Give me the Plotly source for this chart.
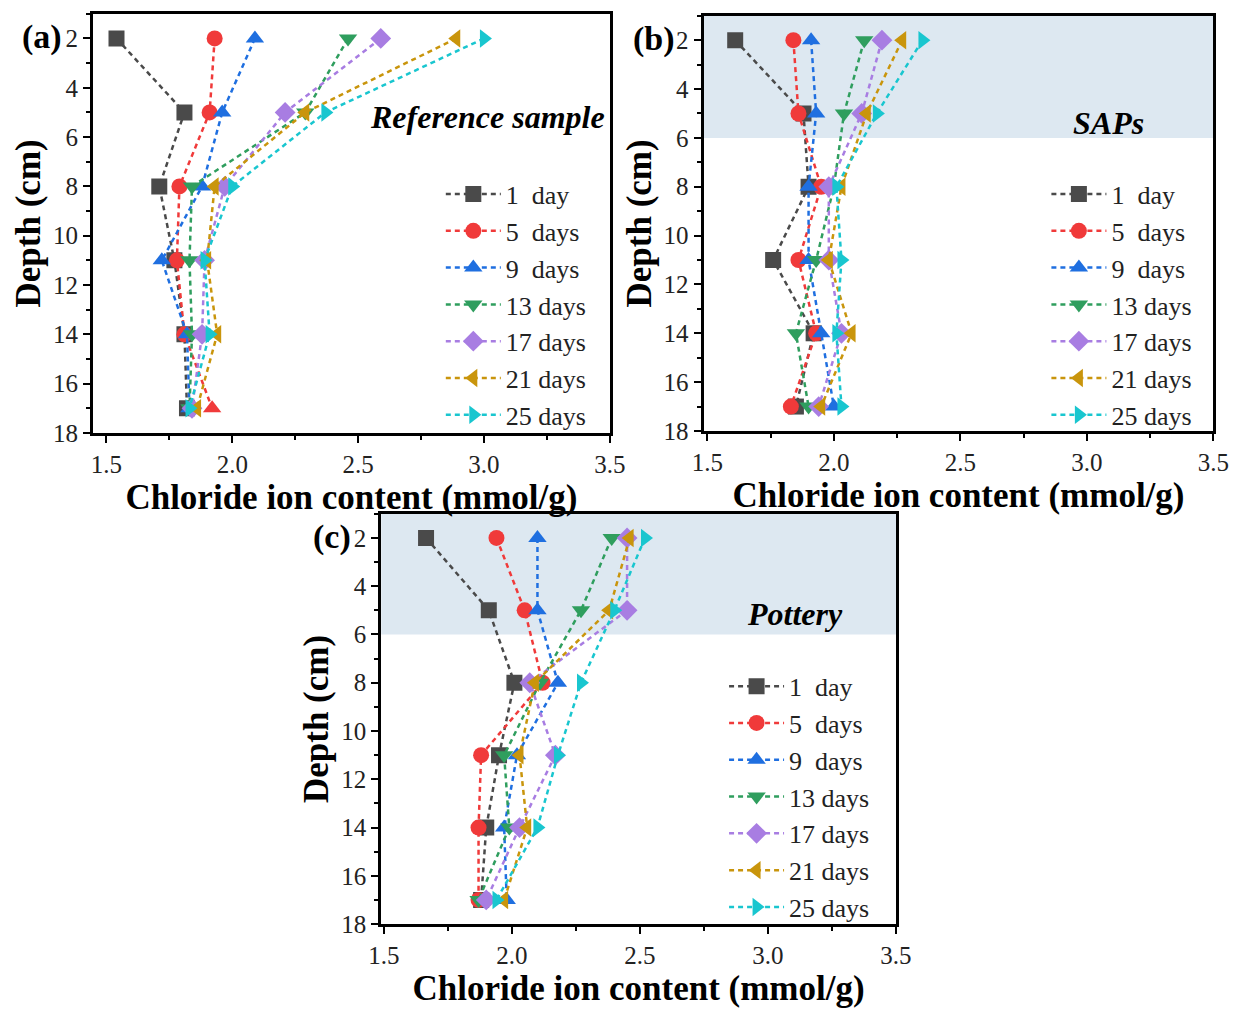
import plotly.graph_objects as go

depth = [2, 5, 8, 11, 14, 17]
series_names = ["1\u00a0\u00a0day", "5\u00a0\u00a0days", "9\u00a0\u00a0days", "13 days", "17 days", "21 days", "25 days"]

# (a) Reference sample
ref_1d = [1.54, 1.81, 1.71, 1.77, 1.81, 1.82]
ref_5d = [1.93, 1.91, 1.79, 1.78, 1.81, 1.92]
ref_9d = [2.09, 1.96, 1.88, 1.72, 1.82, 1.83]
ref_13d = [2.46, 2.29, 1.84, 1.83, 1.84, 1.83]
ref_17d = [2.59, 2.21, 1.97, 1.89, 1.88, 1.84]
ref_21d = [2.89, 2.29, 1.93, 1.90, 1.94, 1.86]
ref_25d = [3.00, 2.37, 2.00, 1.89, 1.91, 1.83]

# (b) SAPs
sap_1d = [1.61, 1.88, 1.90, 1.76, 1.92, 1.85]
sap_5d = [1.84, 1.86, 1.95, 1.86, 1.93, 1.83]
sap_9d = [1.91, 1.93, 1.90, 1.90, 1.95, 2.00]
sap_13d = [2.12, 2.04, 2.00, 1.93, 1.85, 1.90]
sap_17d = [2.19, 2.11, 1.98, 1.98, 2.03, 1.94]
sap_21d = [2.27, 2.13, 2.03, 1.98, 2.07, 1.95]
sap_25d = [2.35, 2.17, 2.01, 2.03, 2.01, 2.03]

# (c) Pottery
pot_1d = [1.665, 1.91, 2.01, 1.95, 1.90, 1.88]
pot_5d = [1.94, 2.05, 2.12, 1.88, 1.87, 1.87]
pot_9d = [2.10, 2.10, 2.18, 2.02, 1.97, 1.98]
pot_13d = [2.39, 2.27, 2.11, 1.97, 1.99, 1.87]
pot_17d = [2.45, 2.45, 2.07, 2.17, 2.03, 1.90]
pot_21d = [2.46, 2.38, 2.09, 2.03, 2.06, 1.97]
pot_25d = [2.52, 2.40, 2.27, 2.18, 2.10, 1.94]

panels = [
    [ref_1d, ref_5d, ref_9d, ref_13d, ref_17d, ref_21d, ref_25d],
    [sap_1d, sap_5d, sap_9d, sap_13d, sap_17d, sap_21d, sap_25d],
    [pot_1d, pot_5d, pot_9d, pot_13d, pot_17d, pot_21d, pot_25d],
]

colors = ["#4a4a4a", "#f03a3a", "#1f6fe0", "#2f9e5e", "#a87de2", "#c9950c", "#19c6cf"]
symbols = ["square", "circle", "triangle-up", "triangle-down", "diamond", "triangle-left", "triangle-right"]

W, H = 1247, 1015
FONT = "Times New Roman, Liberation Serif, serif"

# plot area pixel boxes: left, right, top, bottom
boxes = [(82, 611, 14, 439), (707, 1229, 16, 437), (377, 904, 521, 937)]
xranges = [[1.447, 3.5], [1.485, 3.5], [1.49, 3.5]]

fig = go.Figure()
layout = dict(
    width=W, height=H, margin=dict(l=0, r=0, t=0, b=0),
    paper_bgcolor="white", plot_bgcolor="white",
    font=dict(family=FONT, size=25, color="black"),
    showlegend=True,
)

axis_suffix = ["", "2", "3"]
legend_names = ["legend", "legend2", "legend3"]
legend_pos = [(438, 173), (1058, 173), (728, 672)]

for p in range(3):
    s = axis_suffix[p]
    l, r, t, b = boxes[p]
    for i in range(7):
        sym = symbols[i]
        if p == 0 and i == 1:
            sym = ["circle"] * 5 + ["triangle-up"]
        fig.add_trace(go.Scatter(
            x=panels[p][i], y=depth, mode="lines+markers",
            name=series_names[i],
            line=dict(color=colors[i], width=2.5, dash="5px,4px"),
            marker=dict(symbol=sym, size=16, color=colors[i], line=dict(width=0)),
            xaxis="x" + s, yaxis="y" + s, legend=legend_names[p],
        ))
    layout["xaxis" + s] = dict(
        domain=[l / W, r / W], anchor="y" + s, range=xranges[p],
        dtick=0.5, tick0=0, tickformat=".1f",
        ticks="outside", ticklen=7, tickwidth=2, tickcolor="black",
        minor=dict(dtick=0.25, tick0=0, ticks="outside", ticklen=4, tickwidth=2, tickcolor="black"),
        showline=True, linewidth=3, linecolor="black", mirror=True,
        showgrid=False, zeroline=False,
        tickfont=dict(size=25, family=FONT, color="#222"),
        title=dict(text="<b>Chloride ion content (mmol/g)</b>", font=dict(size=35, family=FONT), standoff=0),
    )
    layout["yaxis" + s] = dict(
        domain=[1 - b / H, 1 - t / H], anchor="x" + s, range=[18, 1],
        dtick=2, tick0=0,
        ticks="outside", ticklen=7, tickwidth=2, tickcolor="black",
        minor=dict(dtick=1, tick0=0, ticks="outside", ticklen=4, tickwidth=2, tickcolor="black"),
        showline=True, linewidth=3, linecolor="black", mirror=True,
        showgrid=False, zeroline=False,
        tickfont=dict(size=25, family=FONT, color="#222"),
        title=dict(text="<b>Depth (cm)</b>", font=dict(size=35, family=FONT), standoff=2),
    )
    lx, ly = legend_pos[p]
    layout[legend_names[p]] = dict(
        x=lx / W, y=1 - ly / H, xanchor="left", yanchor="top",
        bgcolor="rgba(0,0,0,0)", borderwidth=0,
        font=dict(size=26, family=FONT, color="#222"),
        itemwidth=55, tracegroupgap=0,
    )

fig.update_layout(**layout)

# shaded top layer for (b) and (c)
for s in ["2", "3"]:
    fig.add_shape(type="rect", xref="x" + s + " domain", yref="y" + s,
                  x0=0, x1=1, y0=1, y1=6, fillcolor="#dde8f1", line=dict(width=0), layer="below")

# sample labels
fig.add_annotation(text="<b><i>Reference sample</i></b>", xref="x domain", yref="y",
                   x=0.995, y=5.2, xanchor="right", yanchor="middle", showarrow=False,
                   font=dict(size=32, family=FONT, color="black"))
fig.add_annotation(text="<b><i>SAPs</i></b>", xref="x2 domain", yref="y2",
                   x=0.795, y=5.4, xanchor="center", yanchor="middle", showarrow=False,
                   font=dict(size=32, family=FONT, color="black"))
fig.add_annotation(text="<b><i>Pottery</i></b>", xref="x3 domain", yref="y3",
                   x=0.803, y=5.16, xanchor="center", yanchor="middle", showarrow=False,
                   font=dict(size=32, family=FONT, color="black"))

# panel letters
for txt, px, py in [("(a)", 30, 38), ("(b)", 656, 40), ("(c)", 327, 545)]:
    fig.add_annotation(text="<b>" + txt + "</b>", xref="paper", yref="paper",
                       x=px / W, y=1 - py / H, xanchor="center", yanchor="middle", showarrow=False,
                       font=dict(size=34, family=FONT, color="black"))

fig.write_html("out.html")
